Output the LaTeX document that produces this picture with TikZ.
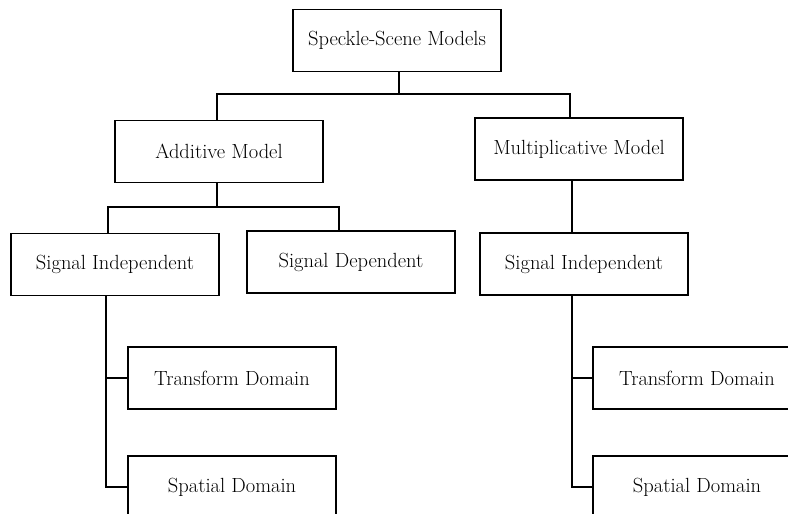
\documentclass[tikz,border=0pt]{standalone}
\begin{document}
\begin{tikzpicture}[x=1pt,y=-1pt,
  box/.style={draw, line width=1.6pt, minimum width=208pt, minimum height=62pt, inner sep=0pt, font=\fontsize{20.5}{24}\selectfont},
  conn/.style={line width=1.6pt}]
\fill[white] (0,0) rectangle (788,514);
\useasboundingbox (0,0) rectangle (788,514);
\node[box] (top) at (397,40.5) {Speckle-Scene Models};
\node[box] (add) at (219,151.5) {Additive Model};
\node[box] (mul) at (579,149) {Multiplicative Model};
\node[box] (sil) at (115,264.5) {Signal Independent};
\node[box] (sd)  at (351,262) {Signal Dependent};
\node[box] (sir) at (584,264) {Signal Independent};
\node[box] (tl)  at (232,378) {Transform Domain};
\node[box] (spl) at (232,487) {Spatial Domain};
\node[box] (tr)  at (697,378) {Transform Domain};
\node[box] (spr) at (697,487) {Spatial Domain};
% level 1
\coordinate (hA) at (217,94);
\coordinate (hM) at (570,94);
\coordinate (hT) at (399,94);
\draw[conn] (top.south -| hT) -- (hT);
\draw[conn] (add.north -| hA) -- (hA) -- (hM) -- (mul.north -| hM);
% additive children
\coordinate (ha) at (217,207);
\coordinate (hl) at (108,207);
\coordinate (hr) at (339,207);
\draw[conn] (add.south -| ha) -- (ha);
\draw[conn] (sil.north -| hl) -- (hl) -- (hr) -- (sd.north -| hr);
% multiplicative child
\coordinate (vr) at (572,0);
\draw[conn] (mul.south -| vr) -- (sir.north -| vr);
% left trunk
\coordinate (vl) at (106,0);
\draw[conn] (sil.south -| vl) -- (spl.west -| vl) -- (spl.west);
\draw[conn] (tl.west -| vl) -- (tl.west);
% right trunk
\draw[conn] (sir.south -| vr) -- (spr.west -| vr) -- (spr.west);
\draw[conn] (tr.west -| vr) -- (tr.west);
\end{tikzpicture}
\end{document}
